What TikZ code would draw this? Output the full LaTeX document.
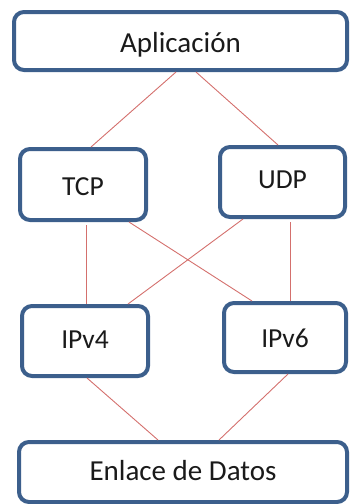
\documentclass[tikz,border=0pt]{standalone}
\usepackage{fontspec}
\setmainfont{Carlito}
\definecolor{boxblue}{HTML}{3C5F8C}
\definecolor{linkred}{HTML}{D4706D}
\definecolor{txt}{HTML}{1A1A1A}
\begin{document}
\begin{tikzpicture}[x=1pt,y=-1pt,
  layerbox/.style={draw=boxblue, line width=4pt, rounded corners=10pt, fill=white,
    inner sep=0pt, text=txt, text height=18.7pt, text depth=0pt,
    font=\fontsize{29}{34}\selectfont},
  midbox/.style={layerbox, text height=17.7pt, font=\fontsize{27.5}{32}\selectfont},
  link/.style={draw=linkred, line width=0.9pt}]
\useasboundingbox (0,0) rectangle (349,504);
\node[layerbox, minimum width=333pt, minimum height=58pt] (app) at (180.5,41) {\raisebox{-2pt}{Aplicación}};
\node[midbox, minimum width=126pt, minimum height=71pt] (tcp) at (83,184.5) {\raisebox{-2.5pt}{TCP}};
\node[midbox, minimum width=125pt, minimum height=70pt] (udp) at (282.5,182) {\raisebox{2.5pt}{UDP}};
\node[midbox, minimum width=126pt, minimum height=70pt] (ipv4) at (85,341) {\raisebox{1pt}{IPv4}};
\node[midbox, minimum width=122pt, minimum height=69pt] (ipv6) at (285,337.5) {\raisebox{-1.5pt}{IPv6}};
\node[layerbox, minimum width=328pt, minimum height=60pt] (dl) at (183,472) {\raisebox{0.5pt}{Enlace de Datos}};
\draw[link] ([xshift=-4.5pt]app.south) -- ([xshift=8pt]tcp.north);
\draw[link] ([xshift=15.5pt]app.south) -- ([xshift=-4.5pt]udp.north);
\draw[link] ([xshift=3pt,yshift=-3pt]tcp.south) -- ([xshift=1pt]ipv4.north);
\draw[link] ([xshift=46pt]tcp.south) -- ([xshift=-33pt]ipv6.north);
\draw[link] ([xshift=-39.5pt]udp.south) -- ([xshift=43pt]ipv4.north);
\draw[link] ([xshift=7.5pt,yshift=-3pt]udp.south) -- ([xshift=5pt]ipv6.north);
\draw[link] ([xshift=2pt]ipv4.south) -- ([xshift=-25pt]dl.north);
\draw[link] ([xshift=3pt]ipv6.south) -- ([xshift=36pt]dl.north);
\end{tikzpicture}
\end{document}
